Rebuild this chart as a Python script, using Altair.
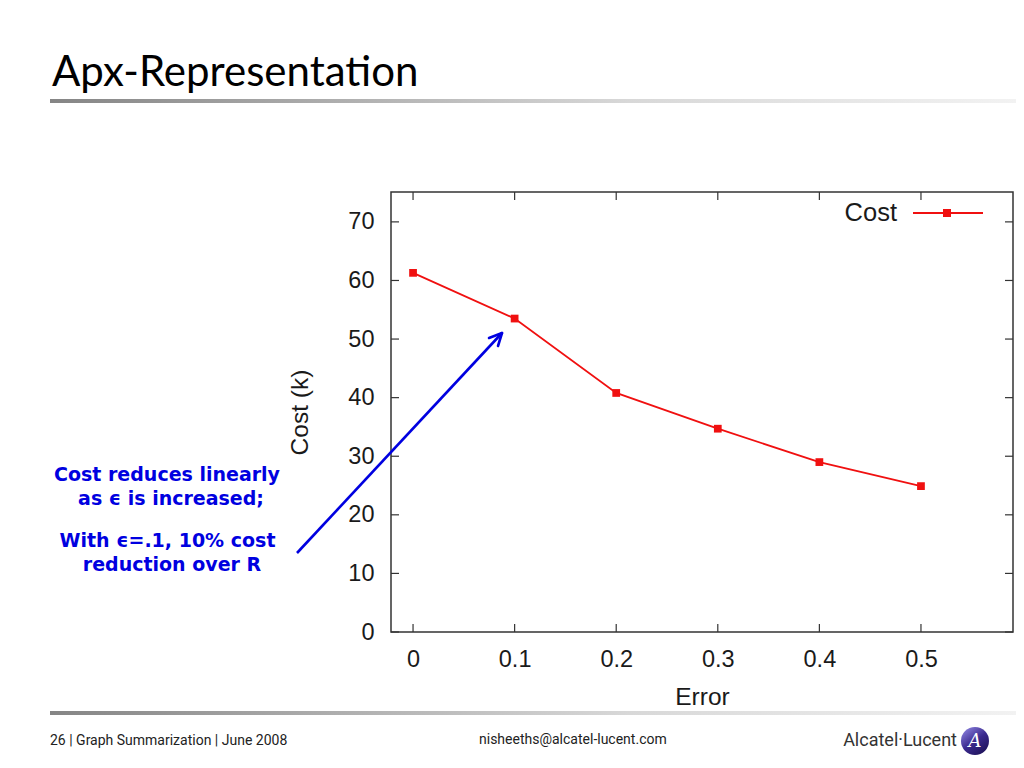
import altair as alt
import pandas as pd

# ---- data ----
errors = [0.0, 0.1, 0.2, 0.3, 0.4, 0.5]
cost = [61.3, 53.5, 40.8, 34.7, 29.0, 24.9]
x_ticks = [0.0, 0.1, 0.2, 0.3, 0.4, 0.5]
y_ticks = [0, 10, 20, 30, 40, 50, 60, 70]
series_name = "Cost"
title_text = "Apx-Representation"
note_lines = ["Cost reduces linearly", "as \u03f5 is increased;", "With \u03f5=.1, 10% cost", "reduction over R"]
footer_left = "26 | Graph Summarization | June 2008"
footer_mid = "nisheeths@alcatel-lucent.com"
footer_brand = "Alcatel\u00b7Lucent"

W, H = 622, 440
RED = "#f01010"
BLUE = "#0000e0"
AXIS_FONT = "Liberation Sans"

df = pd.DataFrame({"Error": errors, "Cost": cost})
xt = pd.DataFrame({"Error": x_ticks})
yt = pd.DataFrame({"Cost": y_ticks})
one = pd.DataFrame({"k": [0]})

xscale = alt.Scale(domain=[-0.0217, 0.5906], nice=False, zero=False)
yscale = alt.Scale(domain=[0, 75.1], nice=False, zero=False)

xaxis = alt.Axis(
    title="Error", values=x_ticks, format="~g", ticks=False, domain=False, grid=False,
    labelFont=AXIS_FONT, labelFontSize=23.5, labelColor="#1a1a1a", labelPadding=15,
    titleFont=AXIS_FONT, titleFontSize=24.5, titleFontWeight="normal", titleColor="#1a1a1a",
    titleX=311, titleY=65, titleBaseline="middle", titleAlign="center")
yaxis = alt.Axis(
    title="Cost (k)", values=y_ticks, ticks=False, domain=False, grid=False,
    labelFont=AXIS_FONT, labelFontSize=23.5, labelColor="#1a1a1a", labelPadding=17,
    titleFont=AXIS_FONT, titleFontSize=24.5, titleFontWeight="normal", titleColor="#1a1a1a",
    titleX=-91, titleY=220, titleAngle=270, titleBaseline="middle", titleAlign="center")

line = alt.Chart(df).mark_line(color=RED, strokeWidth=1.8).encode(
    x=alt.X("Error:Q", scale=xscale, axis=xaxis),
    y=alt.Y("Cost:Q", scale=yscale, axis=yaxis),
)
pts = alt.Chart(df).mark_point(shape="square", filled=True, color=RED, size=60, opacity=1).encode(
    x=alt.X("Error:Q", scale=xscale, axis=xaxis),
    y=alt.Y("Cost:Q", scale=yscale, axis=yaxis),
)

tick_style = dict(color="#333333", strokeWidth=1.2)
xb = alt.Chart(xt).mark_rule(**tick_style).encode(
    x=alt.X("Error:Q", scale=xscale, axis=xaxis), y=alt.value(H), y2=alt.value(H - 8))
xtop = alt.Chart(xt).mark_rule(**tick_style).encode(
    x=alt.X("Error:Q", scale=xscale, axis=xaxis), y=alt.value(0), y2=alt.value(8))
yl = alt.Chart(yt).mark_rule(**tick_style).encode(
    y=alt.Y("Cost:Q", scale=yscale, axis=yaxis), x=alt.value(0), x2=alt.value(8))
yr = alt.Chart(yt).mark_rule(**tick_style).encode(
    y=alt.Y("Cost:Q", scale=yscale, axis=yaxis), x=alt.value(W - 8), x2=alt.value(W))

# legend (manual)
leg_text = alt.Chart(one).mark_text(text=series_name, font=AXIS_FONT, fontSize=25.5, color="#1a1a1a",
                                    align="right", baseline="middle").encode(
    x=alt.value(506), y=alt.value(21))
leg_line = alt.Chart(one).mark_rule(color=RED, strokeWidth=1.8).encode(
    x=alt.value(522), x2=alt.value(592), y=alt.value(21))
leg_pt = alt.Chart(one).mark_point(shape="square", filled=True, color=RED, size=64, opacity=1).encode(
    x=alt.value(556), y=alt.value(21))

# slide title + rules
title = alt.Chart(one).mark_text(text=title_text, font="Lato", fontSize=42, color="#000000",
                                 align="left", baseline="alphabetic").encode(
    x=alt.value(-339), y=alt.value(-106))
grad = alt.Gradient(gradient="linear", x1=0, y1=0, x2=1, y2=0,
                    stops=[alt.GradientStop(color="#858585", offset=0),
                           alt.GradientStop(color="#d8d8d8", offset=0.6),
                           alt.GradientStop(color="#f2f2f2", offset=1)])
bar_top = alt.Chart(one).mark_rect(fill=grad).encode(
    x=alt.value(-341), x2=alt.value(625), y=alt.value(-93), y2=alt.value(-89))
bar_bot = alt.Chart(one).mark_rect(fill=grad).encode(
    x=alt.value(-341), x2=alt.value(625), y=alt.value(519), y2=alt.value(523))

# annotation
note_x = [-224, -220, -223.5, -219]
note_y = [283, 307, 349, 373]
notes = []
for t, nx, ny in zip(note_lines, note_x, note_y):
    notes.append(alt.Chart(one).mark_text(text=t, font="DejaVu Sans", fontWeight="bold", fontSize=19,
                                          color=BLUE, align="center", baseline="middle").encode(
        x=alt.value(nx), y=alt.value(ny)))
arrow = alt.Chart(one).mark_rule(color=BLUE, strokeWidth=2.6).encode(
    x=alt.value(-94), y=alt.value(361), x2=alt.value(111), y2=alt.value(141))
head1 = alt.Chart(one).mark_rule(color=BLUE, strokeWidth=2.6, strokeCap="round").encode(
    x=alt.value(111), y=alt.value(141), x2=alt.value(98), y2=alt.value(146))
head2 = alt.Chart(one).mark_rule(color=BLUE, strokeWidth=2.6, strokeCap="round").encode(
    x=alt.value(111), y=alt.value(141), x2=alt.value(107), y2=alt.value(154))

# footer
f1 = alt.Chart(one).mark_text(text=footer_left, font="Roboto", fontSize=14, color="#222222",
                              align="left", baseline="middle").encode(x=alt.value(-341), y=alt.value(549))
f2 = alt.Chart(one).mark_text(text=footer_mid, font="Roboto", fontSize=14, color="#222222",
                              align="left", baseline="middle").encode(x=alt.value(88), y=alt.value(548))
f3 = alt.Chart(one).mark_text(text=footer_brand, font="Roboto", fontSize=18, color="#333333",
                              align="right", baseline="middle").encode(x=alt.value(566), y=alt.value(549))
logo_grad = alt.Gradient(gradient="linear", x1=0.2, y1=0.1, x2=0.8, y2=0.9,
                         stops=[alt.GradientStop(color="#7d72d0", offset=0),
                                alt.GradientStop(color="#3b2a8f", offset=0.5),
                                alt.GradientStop(color="#21145e", offset=1)])
logo = alt.Chart(one).mark_point(shape="circle", filled=True, fill=logo_grad, size=784, opacity=1,
                                 strokeWidth=0).encode(x=alt.value(584), y=alt.value(549))
logo_a = alt.Chart(one).mark_text(text="A", font="DejaVu Serif", fontStyle="italic", fontSize=18,
                                  color="#ffffff", align="center", baseline="middle").encode(
    x=alt.value(584), y=alt.value(550))

chart = alt.layer(
    bar_top, bar_bot, title, line, pts, xb, xtop, yl, yr, leg_line, leg_pt, leg_text,
    *notes, arrow, head1, head2, f1, f2, f3, logo, logo_a
).properties(
    width=W, height=H,
    autosize=alt.AutoSizeParams(type="none"),
    padding={"left": 383, "top": 184, "right": 3, "bottom": 128},
    background="#ffffff",
).configure_view(stroke="#333333", strokeWidth=1.5)

chart.save("out.html", embed_options={"renderer": "svg", "actions": False})
